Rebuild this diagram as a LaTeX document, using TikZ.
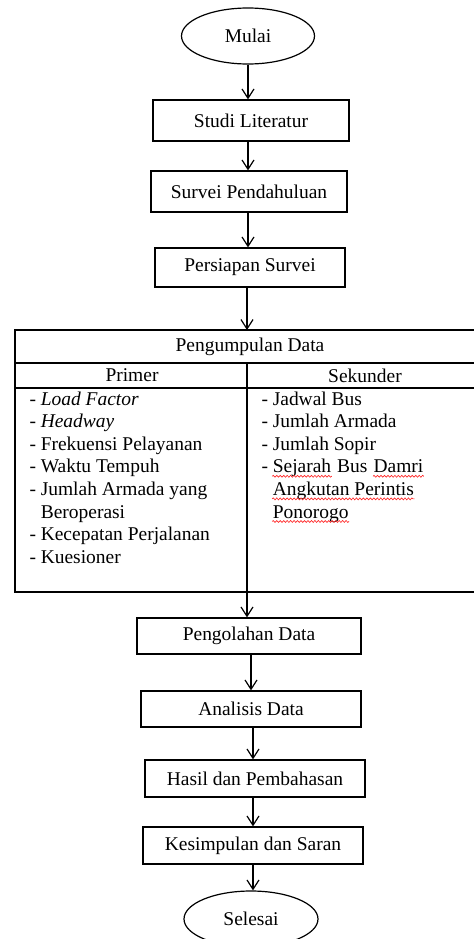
\documentclass[tikz,border=0pt]{standalone}
\usepackage{fontspec}
\setmainfont{Liberation Serif}
\usetikzlibrary{shapes.geometric,arrows.meta,decorations.pathmorphing}
\newcommand\dashitem[1]{\makebox[8.4pt][l]{-}#1}
\begin{document}
\begin{tikzpicture}[x=0.75pt,y=-0.75pt,
  font=\fontsize{14.6pt}{16.8pt}\selectfont,
  line width=0.9pt,
  box/.style={draw, rectangle, inner sep=0pt, align=center},
  oval/.style={draw, ellipse, inner sep=0pt},
  arr/.style={-{Straight Barb[length=7pt,width=9pt,line width=0.9pt]}},
  item/.style={anchor=base west, inner sep=0pt},
  squig/.style={red!85!white, line width=0.5pt, decorate,
    decoration={snake, amplitude=0.7pt, segment length=2.6pt}}]
\useasboundingbox (0,0) rectangle (474,939);
% flow nodes
\node[oval, minimum width=99.75pt, minimum height=42pt] (mulai) at (248,36) {Mulai};
\node[box, minimum width=147pt, minimum height=30.75pt] (studi) at (251,120.5) {Studi Literatur};
\node[box, minimum width=147pt, minimum height=30.75pt] (survei) at (249,191.5) {Survei Pendahuluan};
\node[box, minimum width=142.5pt, minimum height=29.25pt] (persiapan) at (250,267.5) {Persiapan Survei};
\node[box, minimum width=168pt, minimum height=27pt] (pengolahan) at (249,636) {Pengolahan Data};
\node[box, minimum width=165pt, minimum height=27pt] (analisis) at (251,709) {Analisis Data};
\node[box, minimum width=165pt, minimum height=27.75pt] (hasil) at (255,778.5) {Hasil dan Pembahasan};
\node[box, minimum width=165pt, minimum height=27.75pt] (kesimpulan) at (253,845.5) {Kesimpulan dan Saran};
\node[oval, minimum width=100.5pt, minimum height=42pt] (selesai) at (251,919) {Selesai};
% table
\coordinate (ttop) at (247,330);
\coordinate (tbot) at (247,592);
\draw (474,330) -- (15,330) -- (15,592) -- (474,592);
\draw (15,363) -- (474,363);
\draw (15,388) -- (474,388);
\draw (247,363) -- (tbot);
\node (pd) at (250,347) {Pengumpulan Data};
\node (primer) at (132,375.5) {Primer};
\node (sekunder) at (365,375.5) {Sekunder};
% primary list
\node[item] (p1) at (29,405) {\dashitem{\textit{Load Factor}}};
\node[item] (p2) at (29,427.6) {\dashitem{\textit{Headway}}};
\node[item] (p3) at (29,450.2) {\dashitem{Frekuensi Pelayanan}};
\node[item] (p4) at (29,472.8) {\dashitem{Waktu Tempuh}};
\node[item] (p5) at (29,495.4) {\dashitem{Jumlah Armada yang}};
\node[item] (p6) at (40.2,518) {Beroperasi};
\node[item] (p7) at (29,540.6) {\dashitem{Kecepatan Perjalanan}};
\node[item] (p8) at (29,563.2) {\dashitem{Kuesioner}};
% secondary list
\node[item] (s1) at (261,405) {\dashitem{Jadwal Bus}};
\node[item] (s2) at (261,427.6) {\dashitem{Jumlah Armada}};
\node[item] (s3) at (261,450.2) {\dashitem{Jumlah Sopir}};
\node[item] (s4a) at (261,472.8) {\dashitem{Sejarah}};
\node[item] (s4b) at (s4a.base east) {\ Bus\ \null};
\node[item] (s4c) at (s4b.base east) {Damri};
\node[item] (s5) at (272.2,495.4) {Angkutan Perintis};
\node[item] (s6) at (272.2,518) {Ponorogo};
% spelling squiggles
\draw[squig] ([xshift=8.4pt,yshift=-2.6pt]s4a.base west) -- ([yshift=-2.6pt]s4a.base east);
\draw[squig] ([yshift=-2.6pt]s4c.base west) -- ([yshift=-2.6pt]s4c.base east);
\draw[squig] ([yshift=-2.6pt]s5.base west) -- ([yshift=-2.6pt]s5.base east);
\draw[squig] ([yshift=-2.6pt]s6.base west) -- ([yshift=-2.6pt]s6.base east);
% arrows
\draw[arr] (mulai.south) -- (mulai.south |- studi.north);
\draw[arr] (studi.south -| mulai.south) -- (survei.north -| mulai.south);
\draw[arr] (survei.south -| mulai.south) -- (persiapan.north -| mulai.south);
\draw[arr] (persiapan.south -| ttop) -- (ttop);
\draw[arr] (tbot) -- (tbot |- pengolahan.north);
\draw[arr] (pengolahan.south -| analisis.north) -- (analisis.north);
\draw[arr] (analisis.south -| kesimpulan.north) -- (hasil.north -| kesimpulan.north);
\draw[arr] (hasil.south -| kesimpulan.north) -- (kesimpulan.north);
\draw[arr] (kesimpulan.south) -- (kesimpulan.south |- selesai.north);
\end{tikzpicture}
\end{document}
